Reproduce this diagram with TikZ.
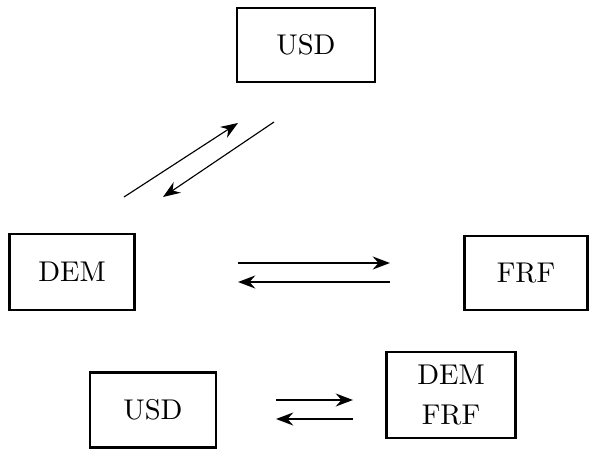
\documentclass[tikz,border=0pt]{standalone}
\usepackage{tikz}
\usetikzlibrary{arrows.meta}
\tikzset{
  cur/.style={draw=black, line width=1pt, align=center, inner sep=0pt},
  fx/.style={draw=black, line width=0.9pt, -{Stealth[length=6pt,width=4.5pt]}},
  fxthin/.style={draw=black, line width=0.4pt, -{Stealth[length=6pt,width=4.5pt]}},
}

\begin{document}
\begin{tikzpicture}[x=0.35pt, y=-0.35pt]
  \useasboundingbox (0,0) rectangle (610,470);
  % currency boxes
  \node[cur, minimum width=138*0.35pt, minimum height=74*0.35pt] (usd) at (306,45) {USD};
  \node[cur, minimum width=125*0.35pt, minimum height=76*0.35pt] (dem) at (72,272) {DEM};
  \node[cur, minimum width=123*0.35pt, minimum height=74*0.35pt] (frf) at (526,273) {FRF};
  \node[cur, minimum width=126*0.35pt, minimum height=75*0.35pt] (usdb) at (153,410) {USD};
  \node[cur, minimum width=129*0.35pt, minimum height=86*0.35pt] (demfrf) at (451,395) {DEM\\[2pt]FRF};
  % arrow ends
  \coordinate (d1) at (124,197); \coordinate (d2) at (238,123);
  \coordinate (d3) at (274,122); \coordinate (d4) at (163,197);
  \coordinate (h1) at (238,263); \coordinate (h2) at (390,263);
  \coordinate (h3) at (390,282); \coordinate (h4) at (238,282);
  \coordinate (b1) at (276,400); \coordinate (b2) at (353,400);
  \coordinate (b3) at (353,419); \coordinate (b4) at (276,419);
  \draw[fxthin] (d1) -- (d2);
  \draw[fxthin] (d3) -- (d4);
  \draw[fx] (h1) -- (h2);
  \draw[fx] (h3) -- (h4);
  \draw[fx] (b1) -- (b2);
  \draw[fx] (b3) -- (b4);
\end{tikzpicture}
\end{document}
